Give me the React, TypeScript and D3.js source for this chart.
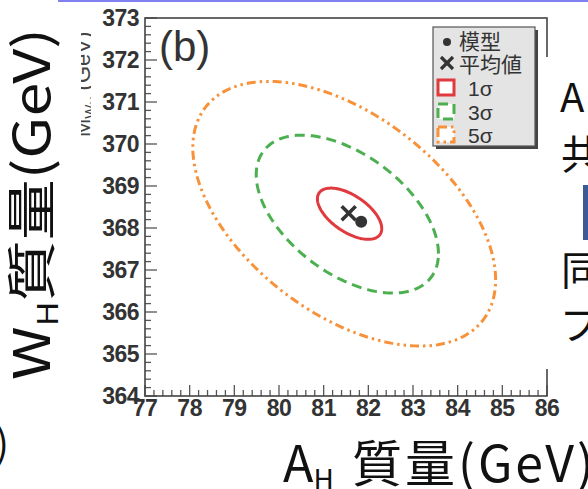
import * as d3 from "d3";

// contour levels (bounding half-widths + correlation)
const sigmaLevels = ["1σ", "3σ", "5σ"];
const centerX = [81.58, 81.53, 81.46];
const centerY = [368.34, 368.33, 368.34];
const spreadX = [0.72, 2.04, 3.39];
const spreadY = [0.61, 1.88, 3.15];
const corr = [-0.58, -0.5, -0.5];
const levelColors = ["#e0393e", "#4caf50", "#f7923a"];
const levelDash = ["none", "10,6", "9,4,2.5,4,2.5,4"];

const modelPoint = [81.84, 368.15];
const meanPoint = [81.56, 368.35];

const xDomain = [77, 86];
const yDomain = [364, 373];

const W = 588;
const H = 489;

function ellipse(i: number) {
  const n = 160;
  const r = corr[i];
  const pts: [number, number][] = [];
  for (let k = 0; k < n; k++) {
    const t = (k / n) * Math.PI * 2;
    pts.push([
      centerX[i] + spreadX[i] * Math.cos(t),
      centerY[i] + spreadY[i] * (r * Math.cos(t) + Math.sqrt(1 - r * r) * Math.sin(t)),
    ]);
  }
  return pts;
}

export default function App() {
  const x = d3.scaleLinear().domain(xDomain).range([145, 547]);
  const y = d3.scaleLinear().domain(yDomain).range([396, 18]);

  const line = d3
    .line<[number, number]>()
    .x((d) => x(d[0]))
    .y((d) => y(d[1]))
    .curve(d3.curveLinearClosed);

  const xMajor = x.ticks(9);
  const xMinor = x.ticks(45);
  const yMajor = y.ticks(9);
  const yMinor = y.ticks(45);

  const tickFont = {
    fontFamily: "'Liberation Sans', Arial, sans-serif",
    fontWeight: 700,
    fontSize: 23,
    fill: "#333",
  };
  const cjk = "'Noto Sans CJK JP', 'Noto Sans', sans-serif";

  const legendY = [96, 120, 143];

  return (
    <svg
      width={W}
      height={H}
      style={{ position: "absolute", left: 0, top: 0, background: "#fff" }}
    >
      <defs>
        <clipPath id="faint">
          <rect x={81} y={20} width={10} height={125} />
        </clipPath>
      </defs>
      <rect x={58} y={0} width={530} height={2} fill="#8080f0" />

      {/* faint label of original chart, mostly hidden */}
      <g clipPath="url(#faint)">
        <text
          transform="translate(90,137) rotate(-90)"
          fontFamily="'Liberation Sans', Arial"
          fontSize={22}
          fill="#444"
        >
          M<tspan fontSize={15} dy={5}>W</tspan>
          <tspan fontSize={11} dy={3}>H</tspan>
          <tspan dy={-8}> (GeV)</tspan>
        </text>
      </g>

      {/* ticks */}
      <g stroke="#555" strokeWidth={1.3}>
        {xMinor.map((v) => (
          <line key={"xm" + v} x1={x(v)} x2={x(v)} y1={396} y2={396 - (xMajor.includes(v) ? 11 : 6)} />
        ))}
        {yMinor.map((v) => (
          <line key={"ym" + v} x1={145} x2={145 + (yMajor.includes(v) ? 12 : 6)} y1={y(v)} y2={y(v)} />
        ))}
      </g>

      {/* frame */}
      <rect x={145} y={18} width={402} height={378} fill="none" stroke="#444" strokeWidth={1.6} />

      {xMajor.map((v) => (
        <text key={"xl" + v} x={x(v)} y={416} textAnchor="middle" {...tickFont} letterSpacing={-0.5}>
          {v}
        </text>
      ))}
      {yMajor.map((v) => (
        <text key={"yl" + v} x={139} y={y(v) + 8} textAnchor="end" {...tickFont} letterSpacing={-0.5}>
          {v}
        </text>
      ))}

      {/* contours */}
      {sigmaLevels.map((s, i) => (
        <path
          key={s}
          d={line(ellipse(i)) || ""}
          fill="none"
          stroke={levelColors[i]}
          strokeWidth={3}
          strokeDasharray={levelDash[i]}
        />
      ))}

      {/* model point and mean */}
      <circle cx={x(modelPoint[0])} cy={y(modelPoint[1])} r={6} fill="#333" />
      <g stroke="#333" strokeWidth={3.5}>
        <line x1={x(meanPoint[0]) - 7} y1={y(meanPoint[1]) - 7} x2={x(meanPoint[0]) + 7} y2={y(meanPoint[1]) + 7} />
        <line x1={x(meanPoint[0]) - 7} y1={y(meanPoint[1]) + 7} x2={x(meanPoint[0]) + 7} y2={y(meanPoint[1]) - 7} />
      </g>

      {/* (b) */}
      <text x={159} y={61} fontFamily="'Liberation Sans', Arial" fontSize={42} fill="#333">
        (b)
      </text>

      {/* legend */}
      <rect x={436} y={30} width={102} height={119} fill="#444" />
      <rect x={433} y={27} width={102} height={119} fill="#e4e4e4" stroke="#555" strokeWidth={1.2} />
      <circle cx={447} cy={42} r={4} fill="#333" />
      <text x={459} y={49} fontFamily={cjk} fontSize={21} fill="#333">模型</text>
      <g stroke="#333" strokeWidth={3.2}>
        <line x1={441} y1={57} x2={453} y2={69} />
        <line x1={441} y1={69} x2={453} y2={57} />
      </g>
      <text x={459} y={72} fontFamily={cjk} fontSize={21} fill="#333">平均値</text>
      {sigmaLevels.map((s, i) => (
        <g key={"lg" + s}>
          <rect
            x={438}
            y={legendY[i] - 16}
            width={16}
            height={15}
            fill="#fff"
            stroke={levelColors[i]}
            strokeWidth={3}
            strokeDasharray={levelDash[i]}
          />
          <text x={468} y={legendY[i]} fontFamily="'Liberation Sans', Arial" fontSize={21} fill="#333">
            {s}
          </text>
        </g>
      ))}

      {/* slide overlay on the right */}
      <rect x={543} y={57} width={45} height={312} fill="#fff" />
      <g fontFamily={cjk} fontSize={40} fill="#111">
        <text x={560} y={112}>A</text>
        <text x={561} y={169}>共</text>
        <text x={561} y={285}>同</text>
        <text x={560} y={339}>プ</text>
      </g>
      <rect x={583} y={185} width={5} height={55} fill="#3a5a98" />
      <text x={9} y={458} textAnchor="end" fontFamily={cjk} fontSize={40} fill="#111">
        )
      </text>

      {/* axis titles */}
      <text x={283} y={482} fontFamily={cjk} fontSize={50} fill="#111">
        A<tspan fontSize={28} dy={8}>H</tspan>
        <tspan dy={-8} dx={4} letterSpacing={3}> 質量(GeV)</tspan>
      </text>
      <text
        transform="translate(50,380) rotate(-90)"
        fontFamily={cjk}
        fontSize={50}
        fill="#111"
        textLength={352}
        lengthAdjust="spacingAndGlyphs"
      >
        W<tspan fontSize={28} dy={8}>H</tspan>
        <tspan dy={-8}>質量(GeV)</tspan>
      </text>
    </svg>
  );
}
